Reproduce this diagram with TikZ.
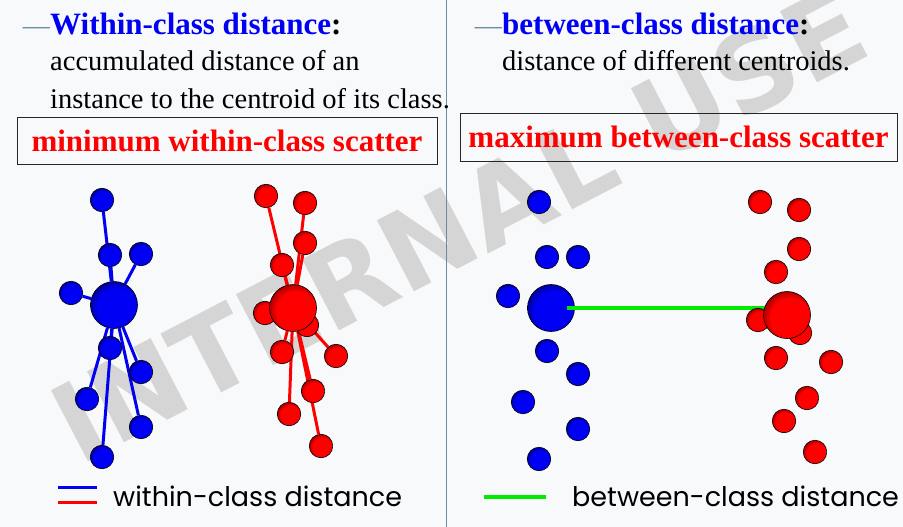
\documentclass[tikz,border=0pt]{standalone}
\usepackage{fontspec}
\setmainfont{Liberation Serif}
\newfontfamily\legendfamily{Poppins}
\newfontfamily\markfamily{DejaVu Sans}
\usepackage{tikz}

\definecolor{bgcol}{RGB}{248,249,250}
\definecolor{rulecol}{RGB}{105,140,162}
\definecolor{wmcol}{RGB}{213,213,213}
\definecolor{ptblue}{RGB}{0,0,245}
\definecolor{ptred}{RGB}{255,0,0}
\definecolor{ptgreen}{RGB}{0,235,0}

\newcommand{\headfnt}{\fontsize{31}{37}\selectfont\bfseries}
\newcommand{\textfnt}{\fontsize{28.5}{34}\selectfont}
\newcommand{\scatterfnt}{\fontsize{31}{37}\selectfont\bfseries}
\newcommand{\legendfnt}{\legendfamily\fontsize{27}{32}\selectfont}

\pgfdeclareradialshading{blueball}{\pgfpoint{6bp}{-6bp}}{color(0bp)=(ptblue); color(21bp)=(ptblue); color(30bp)=(ptblue!55!black); color(50bp)=(ptblue!55!black)}
\pgfdeclareradialshading{redball}{\pgfpoint{6bp}{-6bp}}{color(0bp)=(ptred); color(21bp)=(ptred); color(30bp)=(ptred!60!black); color(50bp)=(ptred!60!black)}

\pgfdeclarelayer{back}
\pgfdeclarelayer{links}
\pgfsetlayers{back,links,main}

\tikzset{
  ptdot/.style={circle, draw=black, line width=0.6pt, inner sep=0pt, minimum size=23.5pt},
  bdot/.style={ptdot, shade, shading=blueball},
  rdot/.style={ptdot, shade, shading=redball},
  cent/.style={minimum size=47pt},
  within/.style={line width=3pt},
  between/.style={line width=4pt, ptgreen},
  txt/.style={anchor=base west, inner sep=0pt},
  scatterbox/.style={draw=black!85, line width=0.8pt, inner sep=0pt, text=ptred, font=\scatterfnt}
}

\begin{document}
\begin{tikzpicture}[x=1pt, y=-1pt]
  \useasboundingbox (0,0) rectangle (903,527);
  \begin{pgfonlayer}{back}
    \fill[bgcol] (0,0) rectangle (903,527);
    \node (mark) at (459,224) [rotate=27.5, inner sep=0pt, text=wmcol, font=\markfamily\bfseries\fontsize{110}{110}\selectfont] {INTERNAL USE};
  \end{pgfonlayer}

  \coordinate (divtop) at (446,0);
  \coordinate (divbot) at (446,527);
  \draw[rulecol, line width=1pt] (divtop) -- (divbot);

  % left column text
  \node (wtitle) at (50,35) [txt, font=\headfnt] {\textcolor{ptblue}{Within-class distance}:};
  \node (wdash) at (wtitle.base west) [anchor=base east, inner sep=0pt, text=rulecol, font=\fontsize{27}{30}\selectfont] {—};
  \node (wtext1) at (50,71) [txt, font=\textfnt] {accumulated distance of an};
  \node (wtext2) at (50,108) [txt, font=\textfnt] {instance to the centroid of its class.};
  \node (wscatter) at (227,140.5) [scatterbox, minimum width=420pt, minimum height=47pt] {minimum within-class scatter};

  % right column text
  \node (btitle) at (502,35) [txt, font=\headfnt] {\textcolor{ptblue}{between-class distance}:};
  \node (bdash) at (btitle.base west) [anchor=base east, inner sep=0pt, text=rulecol, font=\fontsize{27}{30}\selectfont] {—};
  \node (btext1) at (502,71) [txt, font=\textfnt] {distance of different centroids.};
  \node (bscatter) at (678.5,137) [scatterbox, minimum width=437pt, minimum height=48pt] {maximum between-class scatter};

  % within-class clusters
  \node (wb1) at (102,200) [bdot] {};
  \node (wb2) at (110,255) [bdot] {};
  \node (wb3) at (141,254) [bdot] {};
  \node (wb4) at (71,293) [bdot] {};
  \node (wb5) at (110,348) [bdot] {};
  \node (wb6) at (141,372) [bdot] {};
  \node (wb7) at (87,399) [bdot] {};
  \node (wb8) at (141,427) [bdot] {};
  \node (wb9) at (102,457) [bdot] {};
  \node (wb0) at (114,305) [bdot, cent] {};

  \node (wr1) at (266,196) [rdot] {};
  \node (wr2) at (305,203) [rdot] {};
  \node (wr3) at (305,243) [rdot] {};
  \node (wr4) at (282,265) [rdot] {};
  \node (wr5) at (265,313) [rdot] {};
  \node (wr6) at (307,325) [rdot] {};
  \node (wr7) at (282,352) [rdot] {};
  \node (wr8) at (336,356) [rdot] {};
  \node (wr9) at (313,391) [rdot] {};
  \node (wr10) at (289,414) [rdot] {};
  \node (wr11) at (321,446) [rdot] {};
  \node (wr0) at (293,308) [rdot, cent] {};

  \begin{pgfonlayer}{links}
    \foreach \i in {1,...,9} \draw[within, ptblue] (wb0) -- (wb\i);
    \foreach \i in {1,...,11} \draw[within, ptred] (wr0) -- (wr\i);
  \end{pgfonlayer}

  % between-class clusters
  \node (bb1) at (539,202) [bdot] {};
  \node (bb2) at (547,257) [bdot] {};
  \node (bb3) at (578,257) [bdot] {};
  \node (bb4) at (508,296) [bdot] {};
  \node (bb5) at (547,351) [bdot] {};
  \node (bb6) at (578,374) [bdot] {};
  \node (bb7) at (523,402) [bdot] {};
  \node (bb8) at (578,429) [bdot] {};
  \node (bb9) at (539,459) [bdot] {};
  \node (bb0) at (551,308) [bdot, cent] {};

  \draw[between, shorten <=16pt] (bb0.center) -- (bb0 -| 787,0);

  \node (br1) at (760,202) [rdot] {};
  \node (br2) at (799,210) [rdot] {};
  \node (br3) at (799,249) [rdot] {};
  \node (br4) at (776,272) [rdot] {};
  \node (br5) at (758,320) [rdot] {};
  \node (br6) at (800,333) [rdot] {};
  \node (br7) at (776,358) [rdot] {};
  \node (br8) at (831,362) [rdot] {};
  \node (br9) at (807,398) [rdot] {};
  \node (br10) at (784,421) [rdot] {};
  \node (br11) at (815,452) [rdot] {};
  \node (br0) at (787,315) [rdot, cent] {};

  % legends
  \coordinate (lb1) at (58,487);
  \coordinate (lb2) at (97,487);
  \coordinate (lr1) at (58,502);
  \coordinate (lr2) at (97,502);
  \draw[within, ptblue] (lb1) -- (lb2);
  \draw[within, ptred] (lr1) -- (lr2);
  \node (wlegend) at (113,506) [txt, font=\legendfnt] {within-class distance};

  \coordinate (lg1) at (484,497);
  \coordinate (lg2) at (546,497);
  \draw[between] (lg1) -- (lg2);
  \node (blegend) at (572,506) [txt, font=\legendfnt] {between-class distance};
\end{tikzpicture}
\end{document}
